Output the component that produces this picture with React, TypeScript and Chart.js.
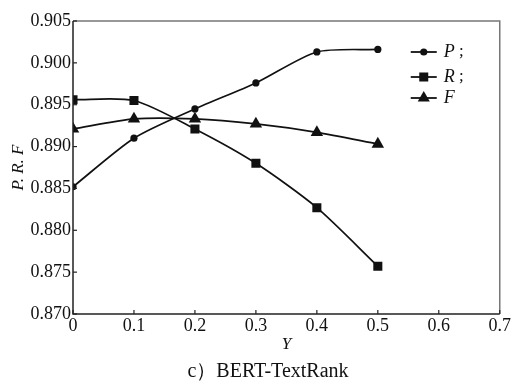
import React, { useEffect, useRef } from "react";
import { Chart, registerables } from "chart.js";

Chart.register(...registerables);

const xValues = [0, 0.1, 0.2, 0.3, 0.4, 0.5];
const pValues = [0.8852, 0.891, 0.8945, 0.8976, 0.9013, 0.9016];
const rValues = [0.8956, 0.8955, 0.8921, 0.888, 0.8827, 0.8757];
const fValues = [0.8921, 0.8933, 0.8933, 0.8927, 0.8917, 0.8903];
const seriesNames = ["P", "R", "F"];
const seriesSuffix = [" ;", " ;", ""];
const xTitle = "Y";
const yTitle = "P. R. F";
const caption = "c\uFF09BERT-TextRank";

const SERIF = "'Liberation Serif', 'Times New Roman', serif";
const INK = "#111";

const frameAndLegend = {
  id: "frameAndLegend",
  afterDraw(chart: any) {
    const { ctx, chartArea } = chart;
    const { left, right, top, bottom } = chartArea;
    ctx.save();
    ctx.lineWidth = 1.5;
    ctx.strokeStyle = "#777";
    ctx.beginPath();
    ctx.moveTo(left, top);
    ctx.lineTo(right, top);
    ctx.lineTo(right, bottom);
    ctx.stroke();
    ctx.strokeStyle = "#222";
    ctx.beginPath();
    ctx.moveTo(left, top);
    ctx.lineTo(left, bottom);
    ctx.lineTo(right, bottom);
    ctx.stroke();
    ctx.lineWidth = 1.2;
    const xs = chart.scales.x;
    const ys = chart.scales.y;
    xs.ticks.forEach((t: any) => {
      const px = xs.getPixelForValue(t.value);
      ctx.beginPath();
      ctx.moveTo(px, bottom);
      ctx.lineTo(px, bottom - 4);
      ctx.stroke();
    });
    ys.ticks.forEach((t: any) => {
      const py = ys.getPixelForValue(t.value);
      ctx.beginPath();
      ctx.moveTo(left, py);
      ctx.lineTo(left + 4, py);
      ctx.stroke();
    });
    const lx0 = right - 89;
    const lx1 = right - 63;
    const rowY = [top + 31, top + 56, top + 77];
    chart.data.datasets.forEach((ds: any, i: number) => {
      const y = rowY[i];
      ctx.strokeStyle = INK;
      ctx.lineWidth = 1.8;
      ctx.beginPath();
      ctx.moveTo(lx0, y);
      ctx.lineTo(lx1, y);
      ctx.stroke();
      ctx.fillStyle = INK;
      const cx = (lx0 + lx1) / 2;
      if (ds.pointStyle === "circle") {
        ctx.beginPath();
        ctx.arc(cx, y, 3.6, 0, Math.PI * 2);
        ctx.fill();
      } else if (ds.pointStyle === "rect") {
        ctx.fillRect(cx - 4.5, y - 4.5, 9, 9);
      } else {
        const r = 7;
        ctx.beginPath();
        ctx.moveTo(cx, y - r);
        ctx.lineTo(cx + r * 0.866, y + r * 0.5);
        ctx.lineTo(cx - r * 0.866, y + r * 0.5);
        ctx.closePath();
        ctx.fill();
      }
      ctx.textBaseline = "middle";
      ctx.textAlign = "left";
      ctx.font = `italic 18px ${SERIF}`;
      const tx = lx1 + 7;
      ctx.fillText(seriesNames[i], tx, y);
      const w = ctx.measureText(seriesNames[i]).width;
      ctx.font = `17px ${SERIF}`;
      ctx.fillText(seriesSuffix[i], tx + w, y);
    });
    ctx.font = `20px ${SERIF}`;
    ctx.textAlign = "center";
    ctx.textBaseline = "middle";
    ctx.fillStyle = INK;
    ctx.fillText(caption, 268, 372);
    ctx.restore();
  },
};

export default function App() {
  const ref = useRef<HTMLCanvasElement | null>(null);
  useEffect(() => {
    if (!ref.current) return;
    const mk = (label: string, values: number[], style: string, radius: number) => ({
      label,
      data: xValues.map((x, i) => ({ x, y: values[i] })),
      borderColor: INK,
      backgroundColor: INK,
      borderWidth: 1.7,
      pointStyle: style,
      pointRadius: radius,
      pointHoverRadius: radius,
      pointBorderWidth: 0,
      tension: 0.25,
      fill: false,
      clip: 0,
    });
    const chart = new Chart(ref.current, {
      type: "line",
      data: {
        datasets: [
          mk(seriesNames[0], pValues, "circle", 3.6),
          mk(seriesNames[1], rValues, "rect", 6.4),
          mk(seriesNames[2], fValues, "triangle", 7.2),
        ],
      },
      options: {
        animation: false,
        responsive: false,
        maintainAspectRatio: false,
        layout: { padding: { top: 21, right: 6, left: 0, bottom: 0 } },
        plugins: { legend: { display: false }, tooltip: { enabled: false } },
        scales: {
          x: {
            type: "linear",
            min: 0,
            max: 0.7,
            afterFit: (s: any) => {
              s.height = 76;
            },
            grid: { display: false, drawTicks: false },
            border: { display: false },
            ticks: {
              stepSize: 0.1,
              autoSkip: false,
              maxRotation: 0,
              padding: 1,
              color: INK,
              font: { family: SERIF, size: 18 },
              callback: (v: any) => (Math.abs(v) < 1e-9 ? "0" : Number(v).toFixed(1)),
            },
            title: {
              display: true,
              text: xTitle,
              color: INK,
              font: { family: SERIF, size: 17, style: "italic" },
              padding: { top: 0, bottom: 35 },
            },
          },
          y: {
            type: "linear",
            min: 0.87,
            max: 0.905,
            afterFit: (s: any) => {
              s.width = 73;
            },
            grid: { display: false, drawTicks: false },
            border: { display: false },
            ticks: {
              stepSize: 0.005,
              autoSkip: false,
              padding: 2,
              color: INK,
              font: { family: SERIF, size: 18 },
              callback: (v: any) => Number(v).toFixed(3),
            },
            title: {
              display: true,
              text: yTitle,
              color: INK,
              font: { family: SERIF, size: 17, style: "italic" },
              padding: { top: 8, bottom: 0 },
            },
          },
        },
      },
      plugins: [frameAndLegend],
    } as any);
    return () => chart.destroy();
  }, []);
  return (
    <div style={{ position: "absolute", left: 0, top: 0, width: 512, height: 390, background: "#fff" }}>
      <canvas ref={ref} width={512} height={390} />
    </div>
  );
}
